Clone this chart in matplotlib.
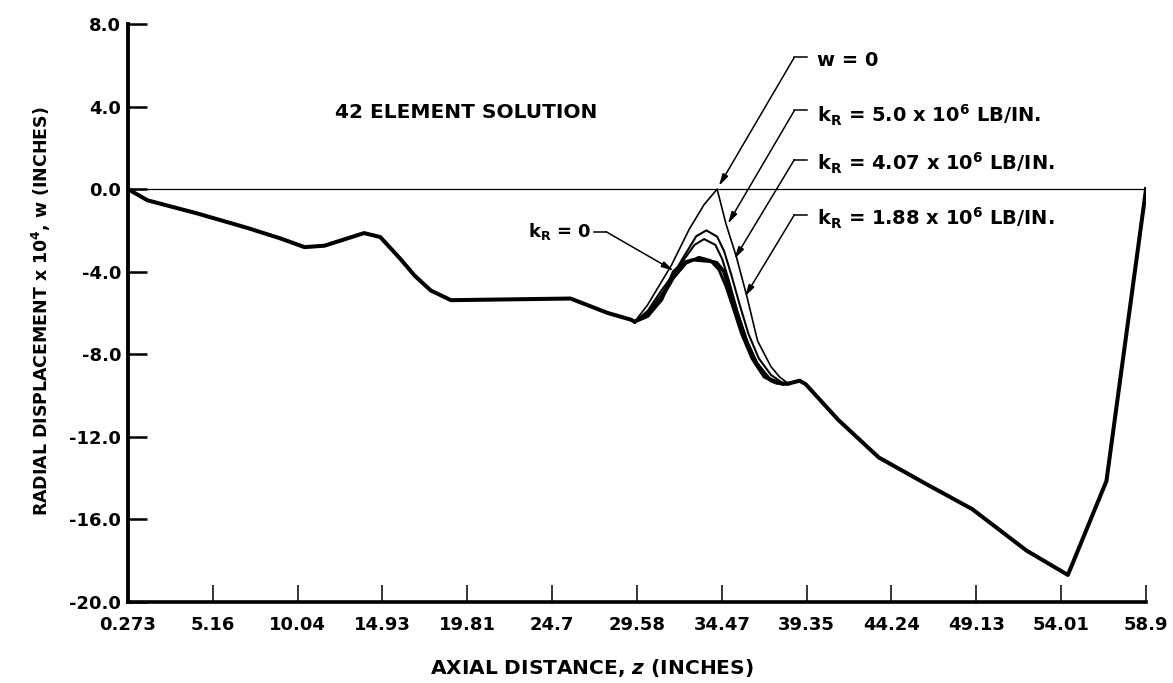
import matplotlib
matplotlib.use("Agg")
import matplotlib.pyplot as plt

plt.rcParams["font.family"] = "DejaVu Sans"
plt.rcParams["font.weight"] = "bold"
plt.rcParams["axes.unicode_minus"] = False
plt.rcParams["mathtext.fontset"] = "custom"
plt.rcParams["mathtext.rm"] = "DejaVu Sans:bold"
plt.rcParams["mathtext.it"] = "DejaVu Sans:italic:bold"
plt.rcParams["mathtext.default"] = "rm"

# axis ticks
z_ticks = ["0.273", "5.16", "10.04", "14.93", "19.81", "24.7", "29.58",
           "34.47", "39.35", "44.24", "49.13", "54.01", "58.9"]
w_ticks = [8.0, 4.0, 0.0, -4.0, -8.0, -12.0, -16.0, -20.0]

# radial displacement x 10^4 (in.) -- part shared by every support case
z_left = [0.273, 1.39, 4.27, 7.15, 9.06, 10.44, 11.59, 13.87, 14.8, 15.96,
          16.78, 17.71, 18.87, 25.76, 27.9, 29.22, 29.45]
w_left = [0.0, -0.54, -1.18, -1.88, -2.39, -2.81, -2.74, -2.13, -2.32, -3.38,
          -4.19, -4.91, -5.38, -5.30, -6.0, -6.32, -6.42]

z_right = [38.3, 38.95, 39.3, 41.18, 43.51, 46.23, 48.89, 52.02, 54.40, 56.62, 58.9]
w_right = [-9.42, -9.28, -9.45, -11.18, -13.0, -14.28, -15.5, -17.51, -18.69, -14.14, 0.0]

# around the support at z = 34.47, one curve per spring stiffness
z_w0 = [30.18, 31.58, 32.59, 33.45, 34.2, 34.71, 35.31, 35.92, 36.53, 37.3, 37.8]
w_w0 = [-5.63, -3.67, -1.95, -0.75, 0.0, -1.68, -3.28, -5.22, -7.35, -8.6, -9.1]

z_k50 = [30.2, 31.0, 31.7, 32.26, 33.0, 33.58, 34.2, 34.6, 35.0, 35.5, 36.0, 36.6, 37.3, 37.9]
w_k50 = [-5.9, -4.9, -4.1, -3.3, -2.28, -2.0, -2.3, -3.0, -4.1, -5.6, -7.0, -8.2, -9.0, -9.35]

z_k407 = [30.2, 31.0, 31.7, 32.3, 32.9, 33.45, 34.1, 34.5, 34.9, 35.4, 35.9, 36.5, 37.2, 37.9]
w_k407 = [-6.0, -5.1, -4.2, -3.4, -2.7, -2.42, -2.7, -3.4, -4.5, -6.0, -7.3, -8.4, -9.15, -9.4]

z_k188 = [30.2, 31.0, 31.7, 32.4, 33.15, 33.8, 34.3, 34.7, 35.1, 35.6, 36.2, 36.9, 37.6]
w_k188 = [-6.1, -5.3, -4.3, -3.6, -3.3, -3.45, -3.9, -4.7, -5.7, -7.0, -8.2, -9.1, -9.4]

z_k0 = [30.2, 31.0, 31.7, 32.3, 32.85, 33.77, 34.17, 34.58, 34.94, 35.36, 35.95,
        36.55, 37.31, 38.0]
w_k0 = [-6.15, -5.35, -4.0, -3.55, -3.42, -3.49, -3.56, -3.98, -4.94, -6.05, -7.5,
        -8.61, -9.28, -9.45]

fig = plt.figure(figsize=(11.73, 6.83), dpi=100)
ax = fig.add_axes([0.1091, 0.1186, 0.8679, 0.8463])

# reference line w = 0
ax.axhline(0.0, color="black", lw=0.9)

ax.plot(z_left, w_left, color="black", lw=2.9, solid_joinstyle="round")
ax.plot(z_right, w_right, color="black", lw=2.9, solid_joinstyle="round")

def join(z_mid, w_mid):
    return ([z_left[-1]] + z_mid + [z_right[0]],
            [w_left[-1]] + w_mid + [w_right[0]])

for zs, ws, lw in [(z_w0, w_w0, 1.2), (z_k50, w_k50, 1.5),
                   (z_k407, w_k407, 1.5), (z_k188, w_k188, 2.0),
                   (z_k0, w_k0, 2.6)]:
    zz, ww = join(zs, ws)
    ax.plot(zz, ww, color="black", lw=lw, solid_joinstyle="round")

ax.set_xlim(float(z_ticks[0]), float(z_ticks[-1]))
ax.set_ylim(-20, 8)
ax.set_xticks([float(t) for t in z_ticks])
ax.set_xticklabels(z_ticks)
ax.set_yticks(w_ticks)
ax.set_yticklabels(["%.1f" % v for v in w_ticks])

for s in ["top", "right"]:
    ax.spines[s].set_visible(False)
ax.spines["left"].set_linewidth(2.8)
ax.spines["bottom"].set_linewidth(2.6)

ax.tick_params(axis="y", direction="in", length=14, width=1.8, pad=5, labelsize=13)
ax.tick_params(axis="x", direction="in", length=12, width=1.1, pad=10, labelsize=13)

ax.text(12.2, 3.7, "42 ELEMENT SOLUTION", fontsize=14.5, va="center", ha="left")

# leader lines for the stiffness labels
arrow = dict(arrowstyle="-|>,head_length=0.7,head_width=0.18", lw=1.1,
             color="black", shrinkA=0, shrinkB=0)
right_labels = ["w = 0",
                r"k$_R$ = 5.0 x 10$^6$ LB/IN.",
                r"k$_R$ = 4.07 x 10$^6$ LB/IN.",
                r"k$_R$ = 1.88 x 10$^6$ LB/IN."]
label_w = [5.97, 3.25, 0.91, -1.76]
leader_w = [6.39, 3.81, 1.43, -1.24]
tips = [(34.3, 0.15), (34.82, -1.68), (35.2, -3.38), (35.8, -5.21)]
for txt, lw_, ldw, tip in zip(right_labels, label_w, leader_w, tips):
    ax.text(39.95, lw_, txt, fontsize=14, ha="left", va="baseline")
    ax.plot([38.65, 39.4], [ldw, ldw], color="black", lw=1.1)
    ax.annotate("", xy=tip, xytext=(38.65, ldw), arrowprops=arrow)

ax.text(26.95, -2.31, r"k$_R$ = 0", fontsize=13, ha="right", va="baseline")
ax.plot([27.1, 27.8], [-2.06, -2.06], color="black", lw=1.1)
ax.annotate("", xy=(31.7, -3.95), xytext=(27.8, -2.06), arrowprops=arrow)

fig.text(41 / 1173, 1 - 311 / 683, r"RADIAL DISPLACEMENT x 10$^4$, w (INCHES)",
         rotation=90, fontsize=12.5, ha="center", va="center")
fig.text(592 / 1173, 1 - 668 / 683, r"AXIAL DISTANCE, $\mathit{z}$ (INCHES)",
         fontsize=14.5, ha="center", va="center")

fig.savefig("out.png", dpi=100)
